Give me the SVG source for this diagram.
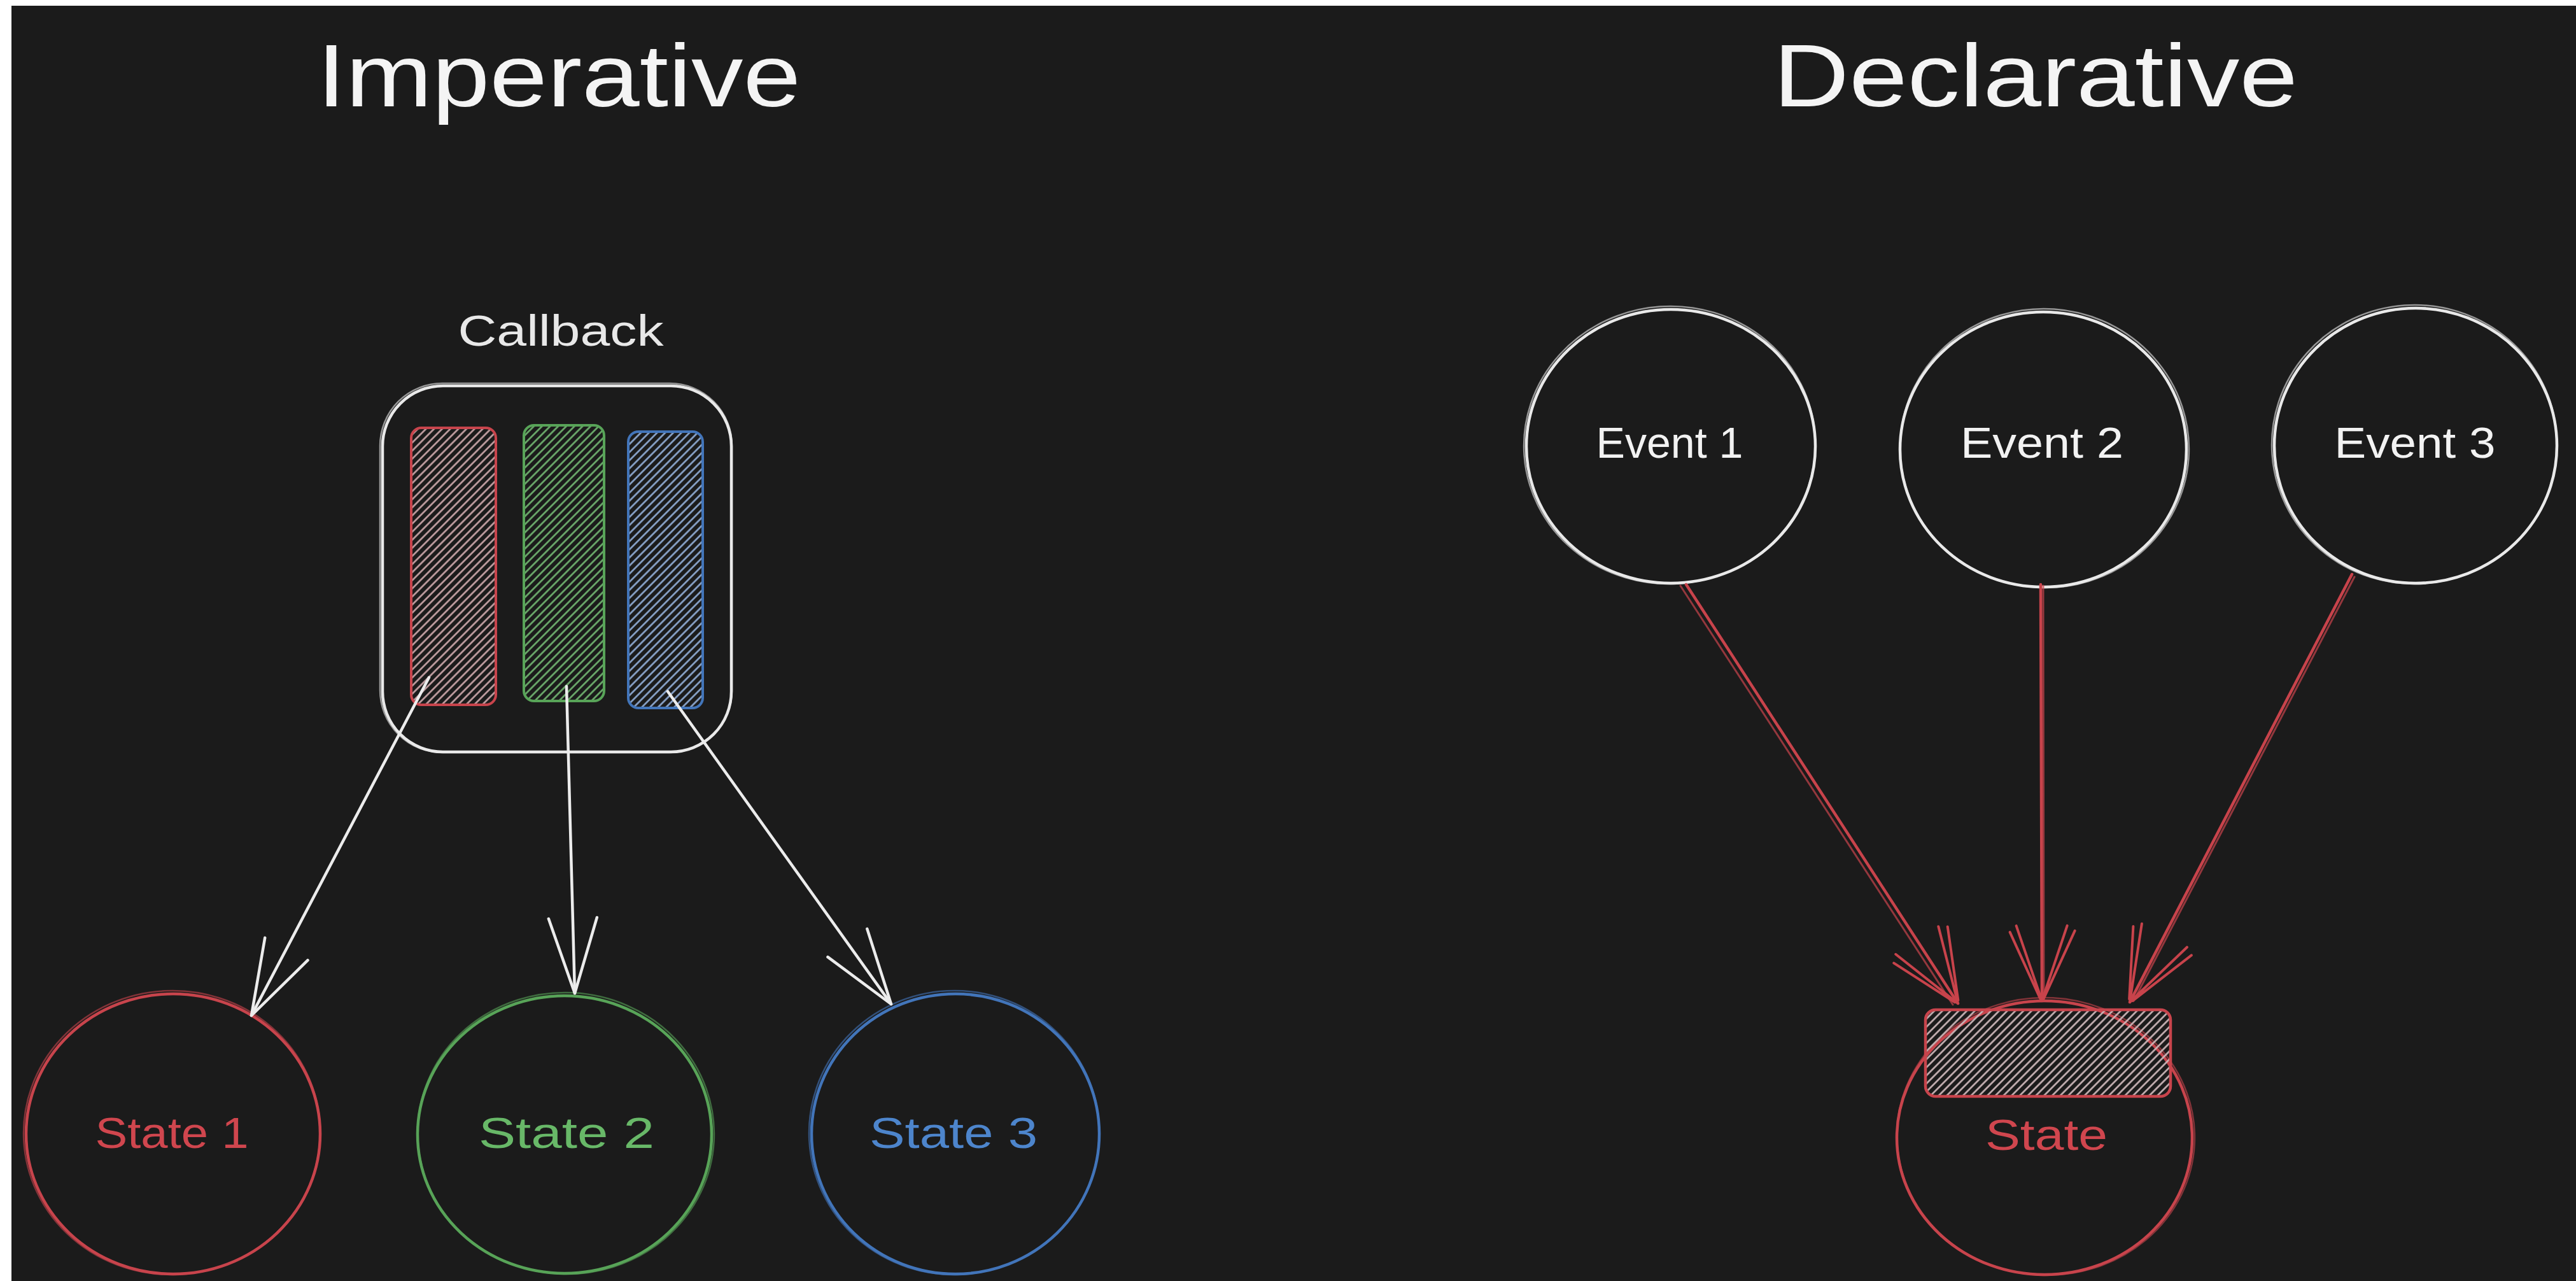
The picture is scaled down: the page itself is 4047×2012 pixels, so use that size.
<svg xmlns="http://www.w3.org/2000/svg" width="4047" height="2012" viewBox="0 0 4047 2012">
<defs>
<style>
.title{font-family:"Liberation Sans","DejaVu Sans",sans-serif;font-size:140px;fill:#f4f4f4;text-anchor:middle}
.lbl{font-family:"Liberation Sans","DejaVu Sans",sans-serif;font-size:68px;text-anchor:middle}
.w{fill:none;stroke:#e9e9e9;stroke-width:4.5}
.wsk{fill:none;stroke:#e9e9e9;stroke-width:2.5;opacity:.6}
.r{fill:none;stroke:#c8444c;stroke-width:4.5}
.rsk{fill:none;stroke:#c8444c;stroke-width:2.5;opacity:.6}
.g{fill:none;stroke:#58a458;stroke-width:4.5}
.gsk{fill:none;stroke:#58a458;stroke-width:2.5;opacity:.6}
.b{fill:none;stroke:#4275ba;stroke-width:4.5}
.bsk{fill:none;stroke:#4275ba;stroke-width:2.5;opacity:.6}
.cw{fill:none;stroke:#ececec;stroke-width:4.5;stroke-linecap:round}
.cr{fill:none;stroke:#c8434b;stroke-width:4.5;stroke-linecap:round}
.crsk{fill:none;stroke:#c8434b;stroke-width:3;stroke-linecap:round;opacity:.7}
</style>
<pattern id="hR" width="9" height="9" patternUnits="userSpaceOnUse" patternTransform="rotate(45)"><line x1="4.5" y1="0" x2="4.5" y2="9" stroke="#c9a5a8" stroke-width="2.6"/></pattern>
<pattern id="hG" width="9" height="9" patternUnits="userSpaceOnUse" patternTransform="rotate(45)"><line x1="4.5" y1="0" x2="4.5" y2="9" stroke="#6fb26f" stroke-width="2.6"/></pattern>
<pattern id="hB" width="9" height="9" patternUnits="userSpaceOnUse" patternTransform="rotate(45)"><line x1="4.5" y1="0" x2="4.5" y2="9" stroke="#8eaad2" stroke-width="2.6"/></pattern>
<pattern id="hS" width="9" height="9" patternUnits="userSpaceOnUse" patternTransform="rotate(45)"><line x1="4.5" y1="0" x2="4.5" y2="9" stroke="#cdb8ba" stroke-width="2.6"/></pattern>
<marker id="aW" markerUnits="userSpaceOnUse" orient="auto" overflow="visible" markerWidth="1" markerHeight="1" refX="0" refY="0"><path d="M-118,-38 L0,0 L-118,38" fill="none" stroke="#ececec" stroke-width="4.5" stroke-linecap="round" stroke-linejoin="round"/></marker>
<marker id="aR" markerUnits="userSpaceOnUse" orient="auto" overflow="visible" markerWidth="1" markerHeight="1" refX="0" refY="0"><path d="M-118,-40 L0,0 L-118,40 M-110,-52 L-4,-3 M-108,50 L-4,3" fill="none" stroke="#c8434b" stroke-width="4" stroke-linecap="round" stroke-linejoin="round"/></marker>
</defs>

<rect x="0" y="0" width="4047" height="2012" fill="#ffffff"/>
<rect x="18" y="9" width="4029" height="2003" fill="#1b1b1b"/>

<g id="title-imperative"><text class="title" x="878" y="167" textLength="760" lengthAdjust="spacingAndGlyphs">Imperative</text></g>
<g id="title-declarative"><text class="title" x="3198" y="167" textLength="824" lengthAdjust="spacingAndGlyphs">Declarative</text></g>

<g id="callback">
<text class="lbl" x="881" y="543" fill="#e8e8e8" font-size="76" textLength="323" lengthAdjust="spacingAndGlyphs">Callback</text>
<rect class="w" x="601" y="606" width="548" height="575" rx="95"/>
<rect class="wsk" x="597" y="602" width="553" height="580" rx="98"/>
<rect x="646" y="672" width="133" height="435" rx="16" fill="url(#hR)" stroke="#c8444c" stroke-width="4"/>
<rect x="823" y="668" width="126" height="433" rx="16" fill="url(#hG)" stroke="#58a458" stroke-width="4"/>
<rect x="987" y="678" width="117" height="434" rx="16" fill="url(#hB)" stroke="#4275ba" stroke-width="4"/>
</g>

<g id="state1">
<ellipse class="r" cx="272" cy="1781" rx="231" ry="220"/>
<ellipse class="rsk" cx="270" cy="1779" rx="233" ry="223" transform="rotate(-3 270 1779)"/>
<text class="lbl" x="270" y="1803" fill="#d0464e" textLength="241" lengthAdjust="spacingAndGlyphs">State 1</text>
</g>
<g id="state2">
<ellipse class="g" cx="887" cy="1782" rx="231" ry="218"/>
<ellipse class="gsk" cx="889" cy="1780" rx="233" ry="221" transform="rotate(3 889 1780)"/>
<text class="lbl" x="890" y="1803" fill="#68b868" textLength="276" lengthAdjust="spacingAndGlyphs">State 2</text>
</g>
<g id="state3">
<ellipse class="b" cx="1501" cy="1781" rx="226" ry="220"/>
<ellipse class="bsk" cx="1499" cy="1779" rx="228" ry="223" transform="rotate(-3 1499 1779)"/>
<text class="lbl" x="1498" y="1803" fill="#4d85cc" textLength="264" lengthAdjust="spacingAndGlyphs">State 3</text>
</g>

<g id="event1">
<ellipse class="w" cx="2625" cy="701" rx="227" ry="215"/>
<ellipse class="wsk" cx="2623" cy="699" rx="229" ry="218" transform="rotate(-4 2623 699)"/>
<text class="lbl" x="2623" y="719" fill="#f2f2f2" font-size="64" textLength="231" lengthAdjust="spacingAndGlyphs">Event 1</text>
</g>
<g id="event2">
<ellipse class="w" cx="3210" cy="706" rx="225" ry="216"/>
<ellipse class="wsk" cx="3212" cy="704" rx="227" ry="219" transform="rotate(4 3212 704)"/>
<text class="lbl" x="3208" y="719" fill="#f2f2f2" font-size="64" textLength="256" lengthAdjust="spacingAndGlyphs">Event 2</text>
</g>
<g id="event3">
<ellipse class="w" cx="3795" cy="700" rx="222" ry="216"/>
<ellipse class="wsk" cx="3793" cy="698" rx="224" ry="219" transform="rotate(-4 3793 698)"/>
<text class="lbl" x="3794" y="719" fill="#f2f2f2" font-size="64" textLength="253" lengthAdjust="spacingAndGlyphs">Event 3</text>
</g>

<g id="state">
<ellipse class="r" cx="3212" cy="1787" rx="232" ry="215"/>
<ellipse class="rsk" cx="3214" cy="1785" rx="234" ry="218" transform="rotate(3 3214 1785)"/>
<rect x="3025" y="1586" width="385" height="136" rx="16" fill="url(#hS)" stroke="#c8444c" stroke-width="4.5"/>
<text class="lbl" x="3215" y="1806" fill="#d0464e" textLength="192" lengthAdjust="spacingAndGlyphs">State</text>
</g>

<g id="connectors">
<path class="cw" d="M674,1064 L395,1595" marker-end="url(#aW)"/>
<path class="cw" d="M890,1078 L903,1560" marker-end="url(#aW)"/>
<path class="cw" d="M1049,1086 L1400,1577" marker-end="url(#aW)"/>
<path class="cr" d="M2649,918 L3076,1576" marker-end="url(#aR)"/>
<path class="crsk" d="M2640,920 L3068,1578"/>
<path class="cr" d="M3206,918 L3208,1572" marker-end="url(#aR)"/>
<path class="crsk" d="M3210,920 L3211,1570"/>
<path class="cr" d="M3695,902 L3346,1574" marker-end="url(#aR)"/>
<path class="crsk" d="M3699,906 L3352,1572"/>
</g>
</svg>
